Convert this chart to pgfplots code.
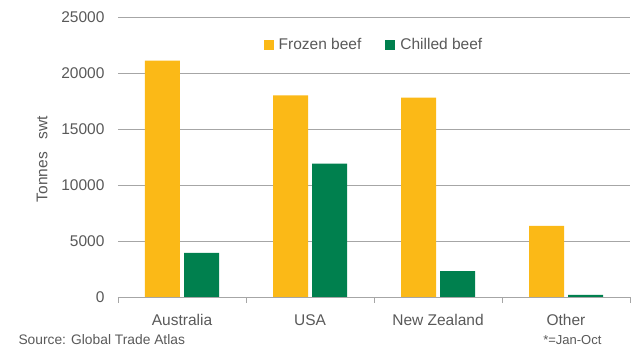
\documentclass[border=0pt]{standalone}
\usepackage{pgfplots}
\pgfplotsset{compat=1.18}
\usepackage{fontspec}
\setmainfont{Liberation Sans}
\definecolor{frozen}{HTML}{FBB917}
\definecolor{chilled}{HTML}{00804E}
\definecolor{txt}{HTML}{595959}
\definecolor{gridc}{HTML}{A6A6A6}
\begin{document}
\begin{tikzpicture}[x=1pt,y=1pt]
\useasboundingbox (-118,-50) rectangle (516,297);
\begin{axis}[
  at={(0,0)}, anchor=south west,
  scale only axis, width=512pt, height=280pt,
  xmin=0.5, xmax=4.5, ymin=0, ymax=25000,
  ybar, bar width=35pt,
  axis lines*=left,
  x axis line style={gridc, line width=0.8pt},
  y axis line style={draw=none},
  ytick={0,5000,...,25000},
  major y tick style={draw=none},
  ymajorgrids, grid style={gridc, line width=0.8pt},
  xtick={0.5,1.5,2.5,3.5,4.5},
  xticklabels={},
  major x tick style={gridc, line width=0.8pt},
  tick align=outside, major tick length=6pt,
  extra x ticks={1,2,3,4},
  extra x tick labels={Australia,USA,New Zealand,Other},
  extra x tick style={major tick length=0pt, grid=none, tick style={draw=none}},
  x tick label style={font=\fontsize{15.5}{18}\selectfont, text=txt, yshift=-14pt},
  y tick label style={font=\fontsize{15.5}{18}\selectfont, text=txt},
  yticklabel style={/pgf/number format/assume math mode=true, /pgf/number format/1000 sep={}},
  scaled y ticks=false,
  every y tick label/.append style={xshift=-4pt},
  legend style={at={(0.5,0.9)}, anchor=center, draw=none, fill=none, font=\fontsize{15.5}{18}\selectfont, text=txt, legend columns=2, /tikz/every even column/.append style={column sep=22pt}},
  legend image code/.code={\fill[#1] (0pt,-5pt) rectangle (10pt,5pt); \path (13pt,0pt);},
]
\addplot[fill=frozen, draw=none, bar shift=-19.5pt] coordinates {(1,21100) (2,18000) (3,17800) (4,6350)};
\addplot[fill=chilled, draw=none, bar shift=19.5pt] coordinates {(1,3950) (2,11900) (3,2300) (4,200)};
\legend{Frozen beef, Chilled beef}
\end{axis}
\node[anchor=west, text=txt, font=\fontsize{13.8}{16}\selectfont] at (-103,-43) {Source: Global Trade Atlas};
\node[anchor=east, text=txt, font=\fontsize{13}{16}\selectfont] at (487,-43) {*=Jan-Oct};
\node[rotate=90, text=txt, font=\fontsize{15.5}{18}\selectfont] at (-76,138) {Tonnes\ \ \ swt};
\end{tikzpicture}
\end{document}
